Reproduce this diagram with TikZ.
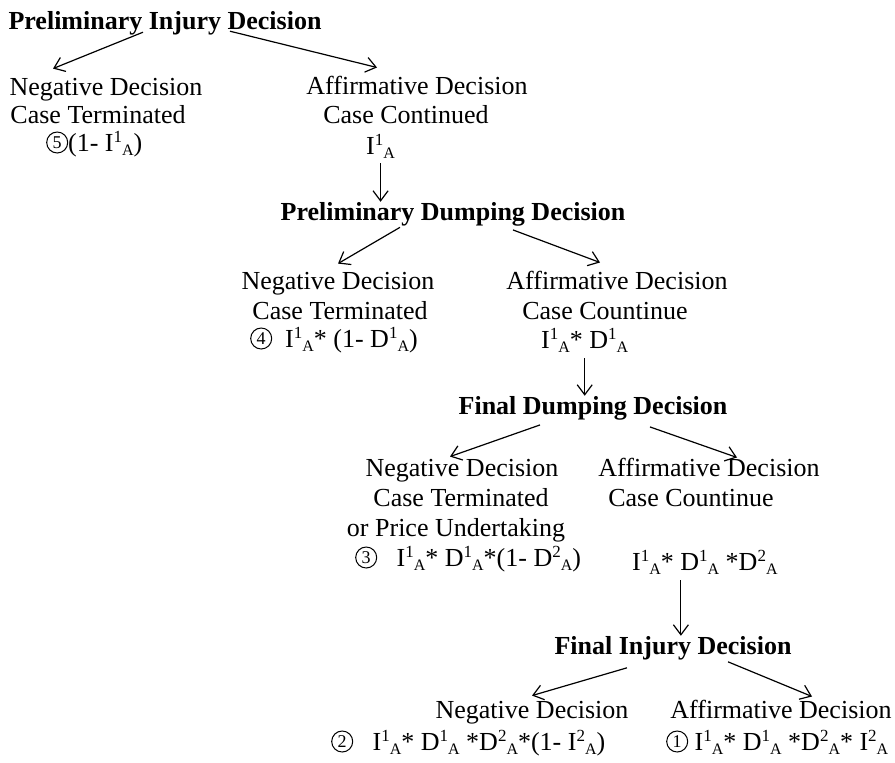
\documentclass[tikz,border=0pt]{standalone}
\usepackage{fontspec}
\setmainfont{Liberation Serif}
\usetikzlibrary{arrows.meta,calc}
\newcommand{\sps}[1]{\raisebox{9pt}{\fontsize{17}{17}\selectfont #1}}
\newcommand{\sbs}[1]{\raisebox{-4pt}{\fontsize{16}{16}\selectfont #1}}
\newcommand{\IA}[1]{I\sps{#1}\sbs{A}}
\newcommand{\DA}[1]{D\sps{#1}\sbs{A}}
\newcommand{\cnum}[1]{\tikz[baseline={([yshift=-8.5pt]cc.center)},x=1cm,y=1cm]\node[circle,draw,line width=1pt,inner sep=0pt,minimum size=21pt,font=\fontsize{18}{18}\selectfont](cc){#1};}
\tikzset{
  lbl/.style={inner sep=0pt, anchor=base, font=\fontsize{26}{30}\selectfont},
  lbll/.style={lbl, anchor=base west},
  ttl/.style={lbl, font=\fontsize{26}{30}\selectfont\bfseries},
  arr/.style={-{Straight Barb[length=10pt,width=15pt]}, line width=1.2pt},
}
\begin{document}
\begin{tikzpicture}[x=1pt,y=-1pt]
\useasboundingbox (0,0) rectangle (895,763);
% level 1
\node[ttl] (t1) at (165,29) {Preliminary Injury Decision};
\node[lbl] (n1) at (106,95) {Negative Decision};
\node[lbl] (n1b) at (98,123) {Case Terminated};
\node[lbll] (n1c) at (46,151) {\cnum{5}(1- \IA{1})};
\node[lbl] (a1) at (417,94) {Affirmative Decision};
\node[lbl] (a1b) at (406,123) {Case Continued};
\node[lbll] (a1c) at (366,154) {\IA{1}};
% level 2
\node[ttl] (t2) at (453,220) {Preliminary Dumping Decision};
\node[lbl] (n2) at (338,289) {Negative Decision};
\node[lbl] (n2b) at (340,319) {Case Terminated};
\node[lbll] (n2c) at (250,347) {\cnum{4}\ \ \IA{1}* (1- \DA{1})};
\node[lbl] (a2) at (617,289) {Affirmative Decision};
\node[lbl] (a2b) at (605,319) {Case Countinue};
\node[lbll] (a2c) at (541,348) {\IA{1}* \DA{1}};
% level 3
\node[ttl] (t3) at (593,414) {Final Dumping Decision};
\node[lbl] (n3) at (462,476) {Negative Decision};
\node[lbl] (n3b) at (461,506) {Case Terminated};
\node[lbl] (n3c) at (456,536) {or Price Undertaking};
\node[lbll] (n3d) at (355,566) {\cnum{3}\ \ \ \IA{1}* \DA{1}*(1- \DA{2})};
\node[lbl] (a3) at (709,476) {Affirmative Decision};
\node[lbl] (a3b) at (691,506) {Case Countinue};
\node[lbll] (a3c) at (632,570) {\IA{1}* \DA{1} *\DA{2}};
% level 4
\node[ttl] (t4) at (673,654) {Final Injury Decision};
\node[lbl] (n4) at (532,718) {Negative Decision};
\node[lbll] (n4c) at (331,750) {\cnum{2}\ \ \ \IA{1}* \DA{1} *\DA{2}*(1- \IA{2})};
\node[lbl] (a4) at (781,718) {Affirmative Decision};
\node[lbll] (a4c) at (666,750) {\cnum{1}\ \IA{1}* \DA{1} *\DA{2}* \IA{2}};
% connectors
\draw[arr] ($(t1.south)+(-22,-2.6)$) -- ($(n1.north)+(-53,-9)$);
\draw[arr] ($(t1.south)+(65,-3.6)$) -- ($(a1.north)+(-40,-8)$);
\draw[arr] ([yshift=-5pt]a1c.south) -- (a1c.south |- t2.north);
\draw[arr] ($(t2.south)+(-53,1.4)$) -- ($(n2.north)+(0,-8)$);
\draw[arr] ($(t2.south)+(60,4)$) -- ($(a2.north)+(-17,-8)$);
\draw[arr] ([yshift=-6pt]a2c.south) -- (a2c.south |- t3.north);
\draw[arr] ($(t3.south)+(-53,5)$) -- ($(n3.north)+(-12,-2)$);
\draw[arr] ($(t3.south)+(57,7)$) -- ($(a3.north)+(28,0)$);
\draw[arr] ($(a3c.south)+(-24,6)$) -- ($(a3c.south |- t4.north)+(-24,0)$);
\draw[arr] ($(t4.south)+(-46,8)$) -- ($(n4.north)+(0,-5)$);
\draw[arr] ($(t4.south)+(55,2)$) -- ($(a4.north)+(31,-3)$);
\end{tikzpicture}
\end{document}
